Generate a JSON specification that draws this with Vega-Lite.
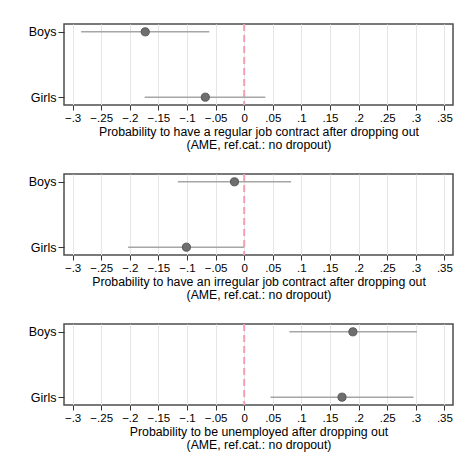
{
  "$schema": "https://vega.github.io/schema/vega-lite/v6.json",
  "padding": {"top": 22, "left": 27, "right": 5, "bottom": 5},
  "background": "white",
  "datasets": {
    "ame": [
      {"panel": 1, "group": "Boys", "est": -0.173, "lo": -0.285, "hi": -0.061},
      {"panel": 1, "group": "Girls", "est": -0.068, "lo": -0.174, "hi": 0.037},
      {"panel": 2, "group": "Boys", "est": -0.017, "lo": -0.116, "hi": 0.082},
      {"panel": 2, "group": "Girls", "est": -0.101, "lo": -0.203, "hi": 0.0},
      {"panel": 3, "group": "Boys", "est": 0.190, "lo": 0.079, "hi": 0.302},
      {"panel": 3, "group": "Girls", "est": 0.171, "lo": 0.046, "hi": 0.296}
    ],
    "zero": [{"x": 0}]
  },
  "config": {
    "font": "Liberation Sans",
    "view": {"stroke": "#4d4d4d", "strokeWidth": 1.5},
    "axis": {"labelColor": "black", "titleColor": "black", "tickColor": "#333", "domain": false, "labelFont": "Liberation Sans", "titleFont": "Liberation Sans"},
    "axisX": {"labelFontSize": 11.5, "titleFontSize": 12.3, "titleFontWeight": "normal", "titleLineHeight": 12.5, "gridColor": "#e6e6e6", "gridWidth": 1, "tickSize": 5, "labelPadding": 2, "titlePadding": 2, "labelOverlap": false, "labelFlush": false, "tickCount": 14, "format": ".2~f", "labelExpr": "replace(datum.label, '0.', '.')", "grid": true},
    "axisY": {"labelFontSize": 12.5, "grid": false, "tickSize": 6, "labelPadding": 2, "title": null}
  },
  "resolve": {"scale": {"x": "independent"}},
  "spacing": 20,
  "vconcat": [
    {
      "width": 389, "height": 81,
      "layer": [
        {
          "data": {"name": "zero"},
          "mark": {"type": "rule", "color": "#f4a0b2", "strokeWidth": 2, "strokeDash": [7, 4]},
          "encoding": {"x": {"field": "x", "type": "quantitative", "scale": {"domain": [-0.315, 0.365], "nice": false, "zero": false}, "axis": {"values": [-0.3, -0.25, -0.2, -0.15, -0.1, -0.05, 0, 0.05, 0.1, 0.15, 0.2, 0.25, 0.3, 0.35], "title": ["Probability to have a regular job contract after dropping out", "(AME, ref.cat.: no dropout)"]}}}
        },
        {
          "data": {"name": "ame"},
          "transform": [{"filter": "datum.panel == 1"}],
          "mark": {"type": "rule", "color": "#a6a6a6", "strokeWidth": 1.5},
          "encoding": {
            "y": {"field": "group", "type": "nominal", "scale": {"type": "point", "padding": 0.12}, "sort": ["Boys", "Girls"], "axis": {"title": null}},
            "x": {"field": "lo", "type": "quantitative", "axis": {"values": [-0.3, -0.25, -0.2, -0.15, -0.1, -0.05, 0, 0.05, 0.1, 0.15, 0.2, 0.25, 0.3, 0.35]}},
            "x2": {"field": "hi"}
          }
        },
        {
          "data": {"name": "ame"},
          "transform": [{"filter": "datum.panel == 1"}],
          "mark": {"type": "point", "filled": true, "size": 65, "color": "#6e6e6e", "stroke": "#555555", "strokeWidth": 1, "opacity": 1},
          "encoding": {
            "y": {"field": "group", "type": "nominal", "sort": ["Boys", "Girls"]},
            "x": {"field": "est", "type": "quantitative", "axis": {"values": [-0.3, -0.25, -0.2, -0.15, -0.1, -0.05, 0, 0.05, 0.1, 0.15, 0.2, 0.25, 0.3, 0.35]}}
          }
        }
      ]
    },
    {
      "width": 389, "height": 81,
      "layer": [
        {
          "data": {"name": "zero"},
          "mark": {"type": "rule", "color": "#f4a0b2", "strokeWidth": 2, "strokeDash": [7, 4]},
          "encoding": {"x": {"field": "x", "type": "quantitative", "scale": {"domain": [-0.315, 0.365], "nice": false, "zero": false}, "axis": {"values": [-0.3, -0.25, -0.2, -0.15, -0.1, -0.05, 0, 0.05, 0.1, 0.15, 0.2, 0.25, 0.3, 0.35], "title": ["Probability to have an irregular job contract after dropping out", "(AME, ref.cat.: no dropout)"]}}}
        },
        {
          "data": {"name": "ame"},
          "transform": [{"filter": "datum.panel == 2"}],
          "mark": {"type": "rule", "color": "#a6a6a6", "strokeWidth": 1.5},
          "encoding": {
            "y": {"field": "group", "type": "nominal", "scale": {"type": "point", "padding": 0.12}, "sort": ["Boys", "Girls"], "axis": {"title": null}},
            "x": {"field": "lo", "type": "quantitative", "axis": {"values": [-0.3, -0.25, -0.2, -0.15, -0.1, -0.05, 0, 0.05, 0.1, 0.15, 0.2, 0.25, 0.3, 0.35]}},
            "x2": {"field": "hi"}
          }
        },
        {
          "data": {"name": "ame"},
          "transform": [{"filter": "datum.panel == 2"}],
          "mark": {"type": "point", "filled": true, "size": 65, "color": "#6e6e6e", "stroke": "#555555", "strokeWidth": 1, "opacity": 1},
          "encoding": {
            "y": {"field": "group", "type": "nominal", "sort": ["Boys", "Girls"]},
            "x": {"field": "est", "type": "quantitative", "axis": {"values": [-0.3, -0.25, -0.2, -0.15, -0.1, -0.05, 0, 0.05, 0.1, 0.15, 0.2, 0.25, 0.3, 0.35]}}
          }
        }
      ]
    },
    {
      "width": 389, "height": 81,
      "layer": [
        {
          "data": {"name": "zero"},
          "mark": {"type": "rule", "color": "#f4a0b2", "strokeWidth": 2, "strokeDash": [7, 4]},
          "encoding": {"x": {"field": "x", "type": "quantitative", "scale": {"domain": [-0.315, 0.365], "nice": false, "zero": false}, "axis": {"values": [-0.3, -0.25, -0.2, -0.15, -0.1, -0.05, 0, 0.05, 0.1, 0.15, 0.2, 0.25, 0.3, 0.35], "title": ["Probability to be unemployed after dropping out", "(AME, ref.cat.: no dropout)"]}}}
        },
        {
          "data": {"name": "ame"},
          "transform": [{"filter": "datum.panel == 3"}],
          "mark": {"type": "rule", "color": "#a6a6a6", "strokeWidth": 1.5},
          "encoding": {
            "y": {"field": "group", "type": "nominal", "scale": {"type": "point", "padding": 0.12}, "sort": ["Boys", "Girls"], "axis": {"title": null}},
            "x": {"field": "lo", "type": "quantitative", "axis": {"values": [-0.3, -0.25, -0.2, -0.15, -0.1, -0.05, 0, 0.05, 0.1, 0.15, 0.2, 0.25, 0.3, 0.35]}},
            "x2": {"field": "hi"}
          }
        },
        {
          "data": {"name": "ame"},
          "transform": [{"filter": "datum.panel == 3"}],
          "mark": {"type": "point", "filled": true, "size": 65, "color": "#6e6e6e", "stroke": "#555555", "strokeWidth": 1, "opacity": 1},
          "encoding": {
            "y": {"field": "group", "type": "nominal", "sort": ["Boys", "Girls"]},
            "x": {"field": "est", "type": "quantitative", "axis": {"values": [-0.3, -0.25, -0.2, -0.15, -0.1, -0.05, 0, 0.05, 0.1, 0.15, 0.2, 0.25, 0.3, 0.35]}}
          }
        }
      ]
    }
  ]
}
